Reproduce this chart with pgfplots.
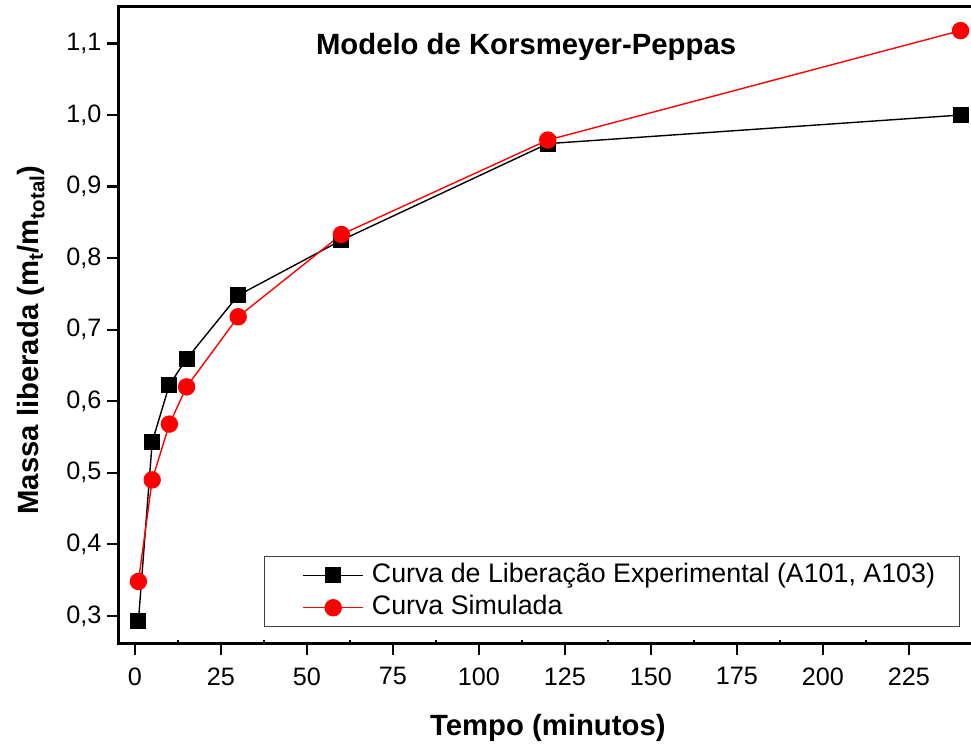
\documentclass[border=0pt]{standalone}
\usepackage{fontspec}
\setmainfont{Liberation Sans}
\usepackage{pgfplots}
\pgfplotsset{compat=1.18}
\usetikzlibrary{calc}

\begin{document}
\begin{tikzpicture}
\begin{axis}[
  scale only axis,
  width=856pt, height=636pt,
  xmin=-4.65, xmax=244.2,
  ymin=0.262, ymax=1.151,
  axis line style={line width=3pt},
  xtick={0,25,50,75,100,125,150,175,200,225},
  ytick={0.3,0.4,0.5,0.6,0.7,0.8,0.9,1.0,1.1},
  xtick pos=bottom, ytick pos=left,
  tick align=outside,
  major tick length=12pt,
  minor tick length=3pt,
  minor x tick num=1,
  minor x tick style={yshift=3pt},
  tick style={line width=2.2pt, black},
  /pgf/number format/assume math mode=true,
  tick label style={font=\fontsize{25.2}{30}\selectfont},
  yticklabel style={xshift=-2pt, /pgf/number format/.cd, use comma, fixed, fixed zerofill, precision=1},
  xticklabel style={yshift=-9pt, /pgf/number format/.cd, fixed, precision=0},
  xlabel={Tempo (minutos)},
  ylabel={Massa liberada (m\textsubscript{t}/m\textsubscript{total})},
  every axis x label/.style={at={(axis description cs:0.501,-0.1447)}, anchor=base, font=\fontsize{29.3}{34}\selectfont\bfseries},
  every axis y label/.style={at={(axis description cs:-0.0946,0.4764)}, rotate=90, anchor=base, font=\fontsize{29.3}{34}\selectfont\bfseries},
  legend style={at={(axis description cs:0.1694,0.1368)}, anchor=north west,
    draw=black!75, line width=1pt, fill=white,
    font=\fontsize{26.8}{30}\selectfont,
    inner xsep=22pt, inner ysep=2.5pt,
    row sep=0pt, column sep=6pt,
    nodes={text height=19.5pt, text depth=6pt, inner ysep=3.5pt, inner xsep=2pt}},
  legend cell align=left,
  legend image code/.code={%
    \path (-16pt,0pt);
    \draw[mark repeat=2,mark phase=2] plot coordinates {(0pt,0pt) (30pt,0pt) (60pt,0pt)};},
  clip=false,
]
\addplot[black, line width=1.4pt, mark=square*, mark size=7.3pt, mark options={solid, fill=black}]
  coordinates {(1,0.293) (5,0.543) (10,0.623) (15,0.659) (30,0.748) (60,0.825) (120,0.960) (240,1.000)};
\addlegendentry{Curva de Liberação Experimental (A101, A103)}
\addplot[red, line width=1.4pt, mark=*, mark size=8pt, mark options={solid, fill=red, draw=red}]
  coordinates {(1,0.348) (5,0.490) (10,0.568) (15,0.620) (30,0.718) (60,0.833) (120,0.965) (240,1.118)};
\addlegendentry{Curva Simulada}
\node[anchor=base, font=\fontsize{29.3}{34}\selectfont\bfseries] at (axis cs:113.7,1.085) {Modelo de Korsmeyer-Peppas};
\coordinate (O) at (rel axis cs:0,0);
\end{axis}
\pgfresetboundingbox
\path ($(O)+(-119pt,-104pt)$) rectangle ($(O)+(852pt,643pt)$);
\end{tikzpicture}
\end{document}
